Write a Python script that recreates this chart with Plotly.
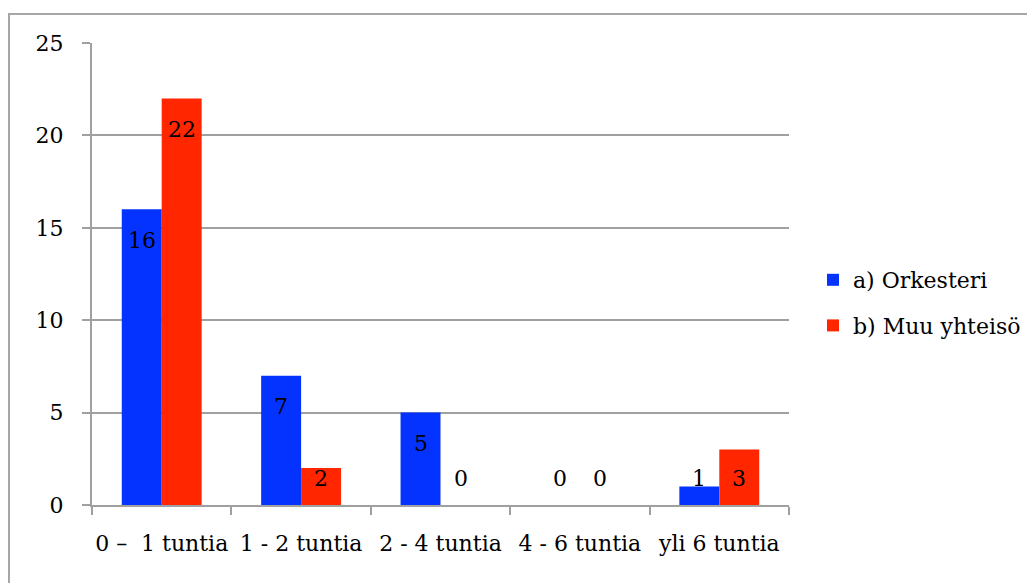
import plotly.graph_objects as go

categories = ["0 –  1 tuntia", "1 - 2 tuntia", "2 - 4 tuntia", "4 - 6 tuntia", "yli 6 tuntia"]
orkesteri = [16, 7, 5, 0, 1]
muu_yhteiso = [22, 2, 0, 0, 3]
series_names = ["a) Orkesteri", "b) Muu yhteisö"]
colors = ["#0433FF", "#FF2600"]
y_ticks = [0, 5, 10, 15, 20, 25]

# page has an 8px body margin; figure coords = reference coords - 8
OFF = 8
W, H = 1035 - OFF, 583 - OFF
L, T = 92 - OFF, 43 - OFF
R = W - (789 - OFF)
B = H - (505 - OFF)
plot_w = W - L - R
plot_h = H - T - B
ymax = 25
px_per_unit = plot_h / ymax

FONT = "DejaVu Serif"
FS = 22
fig = go.Figure()
for name, vals, col in zip(series_names, [orkesteri, muu_yhteiso], colors):
    fig.add_trace(go.Bar(x=categories, y=vals, name=name, marker_color=col,
                         marker_line_width=0, legendgroup=name))

annotations = []
for k, vals in enumerate([orkesteri, muu_yhteiso]):
    shift = -20 if k == 0 else 20
    for c, v in zip(categories, vals):
        ylab = max(v - 31 / px_per_unit, 27 / px_per_unit)
        annotations.append(dict(x=c, y=ylab, xref="x", yref="y", text=str(v),
                                showarrow=False, xshift=shift, yanchor="middle",
                                font=dict(family=FONT, size=FS, color="black")))

def px_x(px):
    return (px - OFF - L) / plot_w

def px_y(py):
    return (H - B - (py - OFF)) / plot_h

fig.update_layout(
    width=W, height=H,
    margin=dict(l=L, r=R, t=T, b=B, autoexpand=False),
    paper_bgcolor="white", plot_bgcolor="white",
    barmode="group", bargap=0.427, bargroupgap=0,
    font=dict(family=FONT, size=FS, color="black"),
    showlegend=True,
    legend=dict(x=px_x(813), xanchor="left", y=px_y(303),
                yanchor="middle", font=dict(family=FONT, size=FS), tracegroupgap=14,
                itemwidth=30, bgcolor="rgba(0,0,0,0)"),
    annotations=annotations,
    shapes=[dict(type="rect", xref="paper", yref="paper",
                 x0=px_x(9), x1=px_x(1050), y0=px_y(600), y1=px_y(14),
                 line=dict(color="#A6A6A6", width=2), layer="below")],
    xaxis=dict(showgrid=False, showline=True, linecolor="#A0A0A0", linewidth=2,
               ticks="outside", tickson="boundaries", ticklen=8, tickcolor="#A0A0A0",
               tickwidth=2, tickangle=0, tickfont=dict(family=FONT, size=FS),
               ticklabelstandoff=18),
    yaxis=dict(range=[0, ymax], tickvals=y_ticks, showgrid=True, gridcolor="#A0A0A0",
               gridwidth=2, showline=True, linecolor="#A0A0A0", linewidth=2,
               ticks="outside", ticklen=8, tickcolor="#A0A0A0", tickwidth=2,
               zeroline=False, tickfont=dict(family=FONT, size=FS), ticklabelstandoff=14),
)
fig.write_html("out.html")
